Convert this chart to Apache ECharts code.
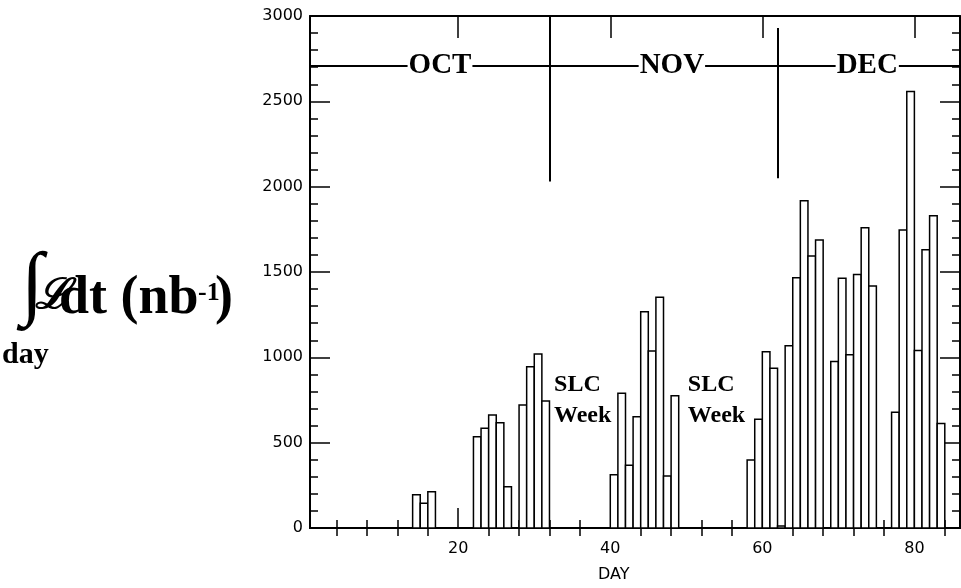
<!DOCTYPE html>
<html>
<head>
<meta charset="utf-8">
<script src="https://cdn.jsdelivr.net/npm/echarts@6/dist/echarts.min.js"></script>
<style>
    html, body { margin: 0; padding: 0; background: #fff; }
    #chart { width: 961px; height: 588px; }
</style>
</head>
<body>
<div id="chart"></div>
<script>
    // daily integrated luminosity, one bin per day
    var days = [14, 15, 16, 22, 23, 24, 25, 26, 28, 29, 30, 31,
                40, 41, 42, 43, 44, 45, 46, 47, 48,
                58, 59, 60, 61, 62, 63, 64, 65, 66, 67, 69, 70, 71, 72, 73, 74,
                77, 78, 79, 80, 81, 82, 83];
    var lumi = [195, 145, 213, 535, 584, 662, 617, 242, 720, 945, 1020, 744,
                312, 790, 368, 652, 1267, 1037, 1352, 305, 775,
                398, 637, 1033, 936, 12, 1068, 1467, 1918, 1594, 1688, 975, 1463, 1015, 1485, 1760, 1418,
                678, 1746, 2557, 1040, 1630, 1830, 613];

    var xMajorTicks = [20, 40, 60, 80];
    var xMinorTicks = [4, 8, 12, 16, 24, 28, 32, 36, 44, 48, 52, 56, 64, 68, 72, 76, 84];

    var monthNames = ['OCT', 'NOV', 'DEC'];
    var monthLabelDays = [17.6, 48.1, 73.8];
    var monthRowLevel = 2710;
    var monthBoundaryDays = [32, 62];
    var monthBoundaryLow = [2030, 2050];
    var monthBoundaryHigh = [3000, 2930];

    var slcWeekDays = [32.6, 50.2];
    var slcWeekLevel = 750;

    var chart = echarts.init(document.getElementById('chart'));

    var tickFont = { fontFamily: 'DejaVu Sans', fontSize: 16, color: '#000' };
    var black = { color: '#000', width: 2 };
    var gridBox = { left: 310, right: 1, top: 16, bottom: 60 };

    var barData = days.map(function (d, i) { return [d, lumi[i]]; });

    var markLines = [[{ coord: [0.5, monthRowLevel] }, { coord: [86, monthRowLevel] }]];
    monthBoundaryDays.forEach(function (d, i) {
        markLines.push([{ coord: [d, monthBoundaryLow[i]] }, { coord: [d, monthBoundaryHigh[i]] }]);
    });

    function xAxisCfg(grid, pos, ticks, len, labels) {
        return {
            type: 'value', gridIndex: grid, position: pos, min: 0.5, max: 86,
            axisLine: { lineStyle: black },
            splitLine: { show: false },
            axisTick: { inside: true, length: len, customValues: ticks, lineStyle: { color: '#000', width: 1.5 } },
            axisLabel: labels ? Object.assign({ customValues: ticks, margin: 13 }, tickFont) : { show: false }
        };
    }

    function yAxisCfg(grid, pos, labels) {
        return {
            type: 'value', gridIndex: grid, position: pos, min: 0, max: 3000, interval: 500,
            show: grid === 0,
            axisLine: { lineStyle: black },
            splitLine: { show: false },
            axisTick: { inside: true, length: 20, lineStyle: { color: '#000', width: 1.5 } },
            minorTick: { show: true, splitNumber: 5, length: 8, lineStyle: { color: '#000', width: 1.5 } },
            axisLabel: labels ? Object.assign({ margin: 7, formatter: function (v) { return String(v); } }, tickFont) : { show: false }
        };
    }

    chart.setOption({
        animation: false,
        backgroundColor: '#fff',
        grid: [Object.assign({}, gridBox), Object.assign({}, gridBox)],
        xAxis: [
            xAxisCfg(0, 'bottom', xMinorTicks, 8, false),
            xAxisCfg(0, 'top', xMinorTicks, 8, false),
            xAxisCfg(1, 'bottom', xMajorTicks, 20, true),
            xAxisCfg(1, 'top', xMajorTicks, 22, false)
        ],
        yAxis: [
            yAxisCfg(0, 'left', true),
            yAxisCfg(0, 'right', false),
            yAxisCfg(1, 'left', false)
        ],
        graphic: [
            { type: 'text', left: 21, top: 246, style: { text: '∫', font: '82px "Liberation Serif"', fill: '#000' } },
            { type: 'text', left: 35, top: 276, style: { text: 'ℒ', font: 'italic bold 42px "DejaVu Serif"', fill: '#000' } },
            { type: 'text', left: 59, top: 272, style: { text: 'dt (nb', font: 'bold 54px "Liberation Serif"', fill: '#000' } },
            { type: 'text', left: 198, top: 280, style: { text: '-1', font: 'bold 26px "Liberation Serif"', fill: '#000' } },
            { type: 'text', left: 215, top: 272, style: { text: ')', font: 'bold 54px "Liberation Serif"', fill: '#000' } },
            { type: 'text', left: 2, top: 340, style: { text: 'day', font: 'bold 30px "Liberation Serif"', fill: '#000' } },
            { type: 'text', left: 598, top: 567, style: { text: 'DAY', font: '16px "DejaVu Sans"', fill: '#000' } }
        ],
        series: [
            {
                type: 'custom',
                xAxisIndex: 0, yAxisIndex: 0,
                data: barData,
                z: 3,
                renderItem: function (params, api) {
                    var d = api.value(0), v = api.value(1);
                    var p0 = api.coord([d, 0]);
                    var p1 = api.coord([d + 1, v]);
                    return {
                        type: 'rect',
                        shape: { x: p0[0], y: p1[1], width: p1[0] - p0[0], height: p0[1] - p1[1] },
                        style: { fill: '#fff', stroke: '#000', lineWidth: 1.5 }
                    };
                }
            },
            {
                type: 'line',
                xAxisIndex: 0, yAxisIndex: 0,
                data: [],
                z: 2,
                markLine: {
                    silent: true, symbol: 'none',
                    label: { show: false },
                    lineStyle: { color: '#000', type: 'solid', width: 2 },
                    data: markLines
                }
            },
            {
                type: 'scatter',
                xAxisIndex: 0, yAxisIndex: 0,
                z: 10,
                symbolSize: 1,
                itemStyle: { color: 'rgba(0,0,0,0)', opacity: 1 },
                data: monthNames.map(function (m, i) { return { value: [monthLabelDays[i], monthRowLevel], name: m }; }),
                label: {
                    show: true, position: 'inside', formatter: '{b}',
                    fontFamily: 'Liberation Serif', fontWeight: 'bold', fontSize: 29, color: '#000',
                    backgroundColor: '#fff', padding: [0, 1]
                }
            },
            {
                type: 'scatter',
                xAxisIndex: 0, yAxisIndex: 0,
                z: 10,
                symbolSize: 1,
                itemStyle: { color: 'rgba(0,0,0,0)', opacity: 1 },
                data: slcWeekDays.map(function (d) { return { value: [d, slcWeekLevel], name: 'SLC\nWeek' }; }),
                label: {
                    show: true, position: 'inside', align: 'left', formatter: '{b}',
                    fontFamily: 'Liberation Serif', fontWeight: 'bold', fontSize: 24, lineHeight: 31, color: '#000'
                }
            }
        ]
    });
</script>
</body>
</html>
